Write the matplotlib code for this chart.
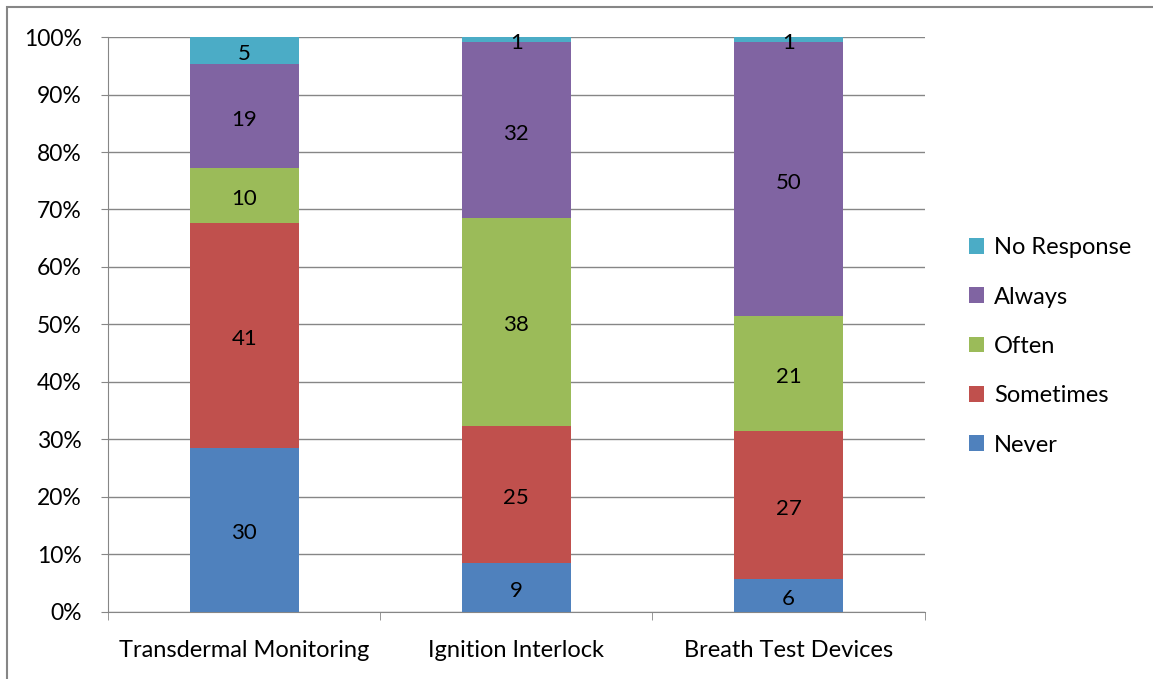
import numpy as np
import matplotlib
matplotlib.use("Agg")
import matplotlib.pyplot as plt
from matplotlib.patches import Rectangle, Patch

plt.rcParams['font.family'] = ['Lato', 'DejaVu Sans']

# survey counts per device
categories = ['Transdermal Monitoring', 'Ignition Interlock', 'Breath Test Devices']
series_names = ['Never', 'Sometimes', 'Often', 'Always', 'No Response']
never = [30, 9, 6]
sometimes = [41, 25, 27]
often = [10, 38, 21]
always = [19, 32, 50]
no_response = [5, 1, 1]
colors = ['#4F81BD', '#C0504D', '#9BBB59', '#8064A2', '#4BACC6']

counts = np.array([never, sometimes, often, always, no_response], dtype=float)
totals = counts.sum(axis=0)
shares = counts / totals * 100

fig = plt.figure(figsize=(11.53, 6.79), dpi=100)
ax = fig.add_axes([0.0937, 0.0987, 0.7083, 0.8468])

x = np.arange(len(categories))
bottom = np.zeros(len(categories))
for i, name in enumerate(series_names):
    ax.bar(x, shares[i], bottom=bottom, width=0.4, color=colors[i],
           label=name, zorder=3)
    for j in range(len(categories)):
        ax.text(x[j], bottom[j] + shares[i][j] / 2 - 0.6, str(int(counts[i][j])),
                ha='center', va='center', fontsize=16, color='black', zorder=4)
    bottom += shares[i]

ax.set_xlim(-0.5, len(categories) - 0.5)
ax.set_ylim(0, 100)
ax.set_yticks(np.arange(0, 101, 10))
ax.set_yticklabels([f'{v}%' for v in range(0, 101, 10)], fontsize=16.5)
ax.yaxis.grid(True, color='#868686', linewidth=1, zorder=0)

ax.set_xticks(x)
ax.set_xticklabels(categories, fontsize=17)
ax.tick_params(axis='x', length=0, pad=20)
ax.set_xticks([-0.5, 0.5, 1.5, 2.5], minor=True)
ax.tick_params(axis='x', which='minor', length=6, color='#868686')
ax.tick_params(axis='y', length=5, color='#868686', pad=14)

for side in ['top', 'right']:
    ax.spines[side].set_visible(False)
for side in ['left', 'bottom']:
    ax.spines[side].set_color('#868686')

handles = [Patch(facecolor=colors[i], label=series_names[i]) for i in range(len(series_names))][::-1]
fig.legend(handles=handles, loc='upper left', bbox_to_anchor=(0.822, 0.682),
           frameon=False, fontsize=17, labelspacing=1.2,
           handlelength=0.65, handleheight=0.65, handletextpad=0.4)

# outer chart border
fig.patches.append(Rectangle((0.006, -0.01), 1.2, 1.0, transform=fig.transFigure,
                             fill=False, edgecolor='#868686', linewidth=1.5))

fig.savefig('out.png', dpi=100)
